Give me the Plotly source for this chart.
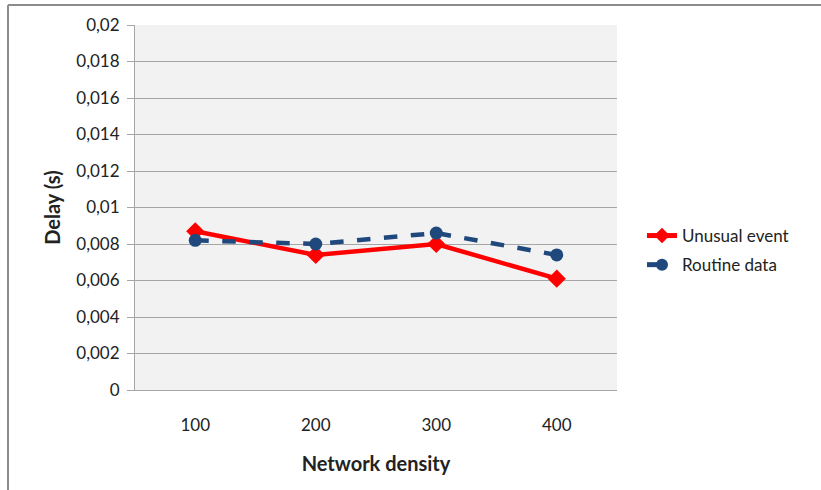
import plotly.graph_objects as go

# Network density categories and measured delays (seconds)
densities = ["100", "200", "300", "400"]
unusual_event = [0.0087, 0.0074, 0.0080, 0.0061]
routine_data = [0.0082, 0.0080, 0.0086, 0.0074]
y_ticks = [0, 0.002, 0.004, 0.006, 0.008, 0.01, 0.012, 0.014, 0.016, 0.018, 0.02]

FONT = "Lato, Carlito, Calibri, sans-serif"

fig = go.Figure()
fig.add_trace(go.Scatter(
    x=densities, y=unusual_event, name="Unusual event",
    mode="lines+markers", legendgroup="a",
    line=dict(color="#FF0000", width=4.5),
    marker=dict(symbol="diamond", size=14, color="#FF0000"),
))
fig.add_trace(go.Scatter(
    x=densities, y=routine_data, name="Routine data",
    mode="lines+markers", legendgroup="b",
    line=dict(color="#1F497D", width=4.5, dash="dash"),
    marker=dict(symbol="circle", size=13, color="#1F497D"),
))

L, R, T, B = 135, 204, 25, 100
W, H = 821, 490
pw, ph = W - L - R, H - T - B

def px_x(p):
    return (p - L) / pw

def px_y(p):
    return (H - B - p) / ph

fig.update_layout(
    width=W, height=H,
    margin=dict(l=L, r=R, t=T, b=B),
    paper_bgcolor="white",
    plot_bgcolor="#F2F2F2",
    separators=", ",
    font=dict(family=FONT, size=17, color="#222222"),
    showlegend=True,
    legend=dict(
        x=px_x(642), y=px_y(218), xanchor="left", yanchor="top",
        bgcolor="rgba(0,0,0,0)", font=dict(size=17, color="#222222"),
        tracegroupgap=4, itemsizing="constant",
    ),
    xaxis=dict(
        type="category", range=[-0.5, 3.5],
        showgrid=False, showline=True, linecolor="#A6A6A6", linewidth=1,
        ticks="", tickfont=dict(size=17), ticklabelstandoff=20,
        title=dict(text="<b>Network density</b>", font=dict(size=20), standoff=22),
        zeroline=False,
    ),
    yaxis=dict(
        range=[0, 0.02], tickvals=y_ticks,
        showgrid=True, gridcolor="#A6A6A6", gridwidth=1,
        showline=True, linecolor="#A6A6A6", linewidth=1,
        ticks="outside", ticklen=7, tickcolor="#A6A6A6",
        tickfont=dict(size=17), ticklabelstandoff=4,
        title=dict(text="<b>Delay (s)</b>", font=dict(size=20), standoff=10),
        zeroline=False,
    ),
    shapes=[
        dict(type="line", xref="paper", yref="paper",
             x0=px_x(8), x1=px_x(830), y0=px_y(5), y1=px_y(5),
             line=dict(color="#8C8C8C", width=2)),
        dict(type="line", xref="paper", yref="paper",
             x0=px_x(8), x1=px_x(8), y0=px_y(5), y1=px_y(500),
             line=dict(color="#8C8C8C", width=2)),
    ],
)

fig.write_html("out.html")
